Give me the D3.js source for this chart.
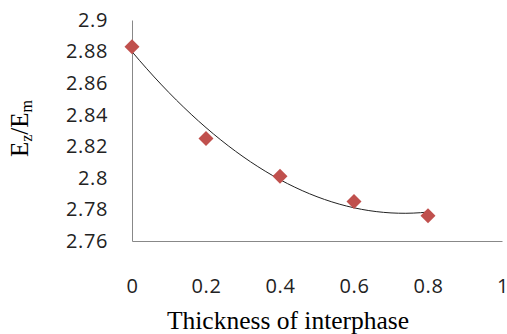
<!DOCTYPE html>
<html>
<head>
<meta charset="utf-8">
<script src="https://cdn.jsdelivr.net/npm/d3@7"></script>
<style>
  body { margin: 0; background: #fff; }
  svg { display: block; }
  .tick text { font-family: "Open Sans", sans-serif; font-size: 20px; letter-spacing: 0.6px; fill: #222; }
</style>
</head>
<body>
<div id="chart"></div>
<script>
// data
var thickness = [0, 0.2, 0.4, 0.6, 0.8];
var ratio = [2.883, 2.825, 2.801, 2.785, 2.776];
var xTicks = [0, 0.2, 0.4, 0.6, 0.8, 1];
var yTicks = [2.76, 2.78, 2.8, 2.82, 2.84, 2.86, 2.88, 2.9];

var W = 507, H = 334;
var margin = {top: 20, right: 5, bottom: 93, left: 132},
    width = W - margin.left - margin.right,
    height = H - margin.top - margin.bottom;

var svg = d3.select("#chart")
  .append("svg")
    .attr("width", W)
    .attr("height", H)
  .append("g")
    .attr("transform", "translate(" + margin.left + "," + margin.top + ")");

var x = d3.scaleLinear().domain([0, 1]).range([0, width]);
var y = d3.scaleLinear().domain([2.76, 2.9]).range([height, 0]);

// x axis
var xAxis = svg.append("g")
  .attr("transform", "translate(0," + height + ")")
  .call(d3.axisBottom(x).tickValues(xTicks).tickSize(0).tickPadding(38)
    .tickFormat(d => "" + (+d.toFixed(1))));
xAxis.select(".domain").attr("stroke", "#888");
// last label sits on the right edge, keep it inside
xAxis.selectAll(".tick text").filter(d => d === 1)
  .attr("text-anchor", "end").attr("dx", 6).style("letter-spacing", "0px");

// y axis
var yAxis = svg.append("g")
  .call(d3.axisLeft(y).tickValues(yTicks).tickSize(0).tickPadding(24)
    .tickFormat(d => "" + (+d.toFixed(2))));
yAxis.select(".domain").attr("stroke", "#888");

// polynomial (order 2) trendline fitted to the points
function polyfit2(xs, ys) {
  var s = [0, 0, 0, 0, 0], t = [0, 0, 0];
  xs.forEach((xv, i) => {
    for (var k = 0; k < 5; k++) s[k] += Math.pow(xv, k);
    for (var k = 0; k < 3; k++) t[k] += Math.pow(xv, k) * ys[i];
  });
  var A = [[s[0], s[1], s[2], t[0]], [s[1], s[2], s[3], t[1]], [s[2], s[3], s[4], t[2]]];
  for (var i = 0; i < 3; i++) {
    for (var j = i + 1; j < 3; j++) {
      var f = A[j][i] / A[i][i];
      for (var k = i; k < 4; k++) A[j][k] -= f * A[i][k];
    }
  }
  var c = [0, 0, 0];
  for (var i = 2; i >= 0; i--) {
    var v = A[i][3];
    for (var k = i + 1; k < 3; k++) v -= A[i][k] * c[k];
    c[i] = v / A[i][i];
  }
  return c;
}
var c = polyfit2(thickness, ratio);
var trend = d3.range(0, 0.8001, 0.02).map(t => ({t: t, v: c[0] + c[1] * t + c[2] * t * t}));

svg.append("path")
  .datum(trend)
  .attr("fill", "none")
  .attr("stroke", "#222")
  .attr("stroke-width", 1)
  .attr("d", d3.line().x(d => x(d.t)).y(d => y(d.v)));

// markers
svg.selectAll(".pt")
  .data(thickness)
  .enter().append("path")
    .attr("class", "pt")
    .attr("d", d3.symbol().type(d3.symbolSquare).size(112))
    .attr("fill", "#c0504d")
    .attr("transform", (d, i) => "translate(" + x(d) + "," + y(ratio[i]) + ") rotate(45)");

// axis titles
svg.append("text")
  .attr("x", width / 2 - 29)
  .attr("y", height + 88)
  .attr("text-anchor", "middle")
  .style("font-family", "'Liberation Serif', 'Times New Roman', serif")
  .style("font-size", "25.5px")
  .text("Thickness of interphase");

var yt = svg.append("text")
  .attr("transform", "translate(" + (28 - margin.left) + "," + (height / 2 - 2) + ") rotate(-90)")
  .attr("text-anchor", "middle")
  .style("font-family", "'Liberation Serif', 'Times New Roman', serif")
  .style("font-size", "25px");
yt.append("tspan").text("E");
yt.append("tspan").attr("font-size", "16px").attr("dy", 4).text("z");
yt.append("tspan").attr("dy", -4).text("/E");
yt.append("tspan").attr("font-size", "16px").attr("dy", 4).text("m");
</script>
</body>
</html>
